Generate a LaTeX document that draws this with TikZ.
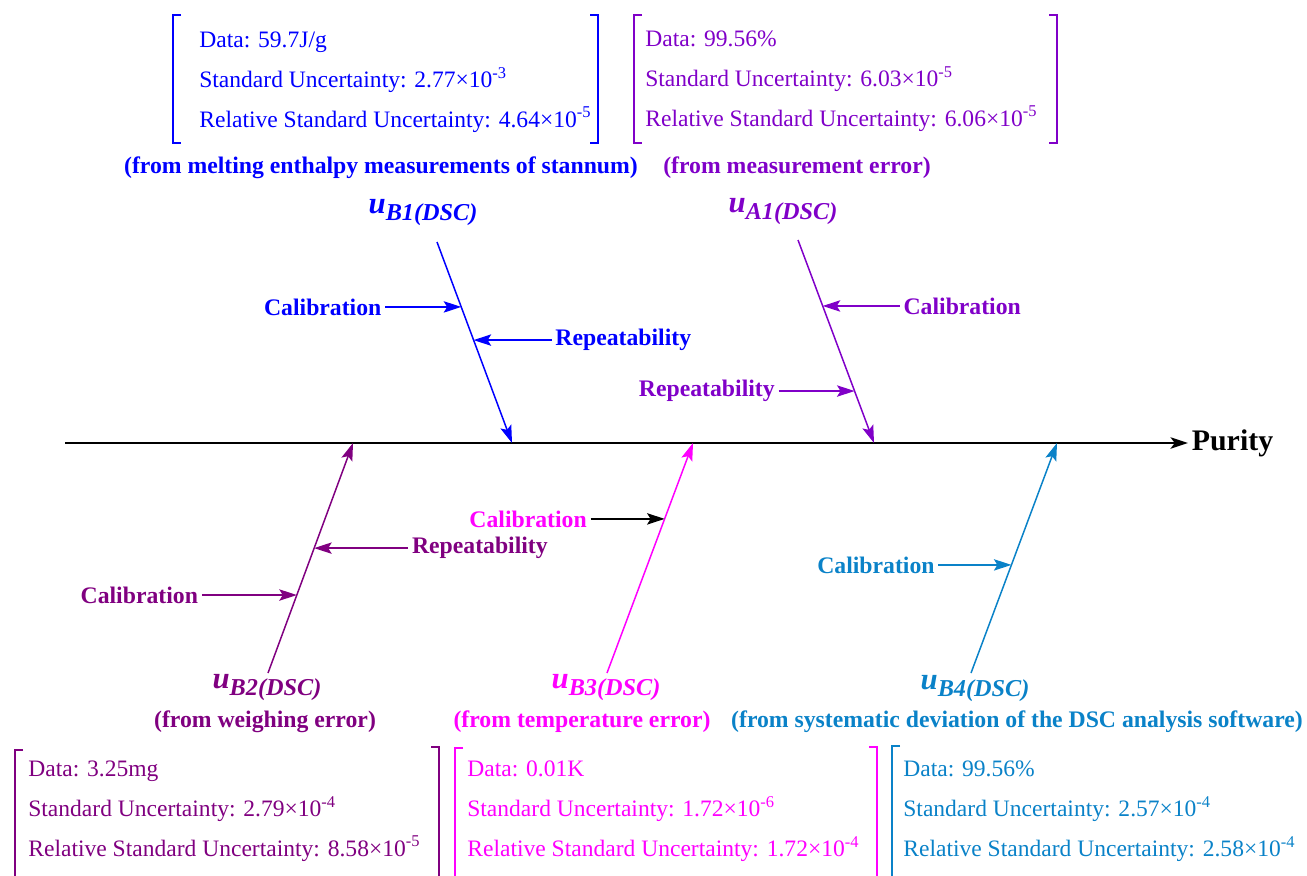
\documentclass[tikz,border=0pt]{standalone}
\usepackage{fontspec}
\setmainfont{Liberation Serif}
\usetikzlibrary{arrows.meta,calc,positioning}

\definecolor{colB1}{RGB}{0,0,255}
\definecolor{colA1}{RGB}{128,0,200}
\definecolor{colB2}{RGB}{128,0,128}
\definecolor{colB3}{RGB}{255,0,255}
\definecolor{colB4}{RGB}{10,130,200}

% u label with bold italic subscript
\newcommand{\ulab}[1]{\fontsize{17.5}{20}\selectfont\bfseries\itshape u\raisebox{-4pt}{\fontsize{13.8}{16}\selectfont #1(DSC)}}

\begin{document}
\begin{tikzpicture}[
            x = 0.02cm, y = -0.02cm, % one unit = one pixel of the reference
            headtip/.style = {-{Stealth[length=10pt,width=6.5pt,inset=2pt]}},
            branch/.style = {headtip, line width=0.85pt}, % main cause arrows
            cause/.style = {headtip, line width=0.75pt}, % sub cause arrows
            lbl/.style = {font=\fontsize{13.5}{16}\selectfont\bfseries, inner sep=2pt},
            data/.style = {font=\fontsize{13.4}{22.7}\selectfont, align=left, anchor=west, inner sep=0pt},
            brk/.style = {line width=0.8pt}
        ]
\useasboundingbox (0,0) rectangle (1307,875);
\clip (0,0) rectangle (1307,875);

% spine
\coordinate (spineL) at (65,443);
\node[font=\fontsize{17}{20}\selectfont\bfseries, anchor=west, inner sep=2pt] (purity) at (1188,443) {Purity};
\draw[line width=1.1pt, -{Stealth[length=10pt,width=6.5pt,inset=2.5pt]}] (spineL) -- (purity);

% u_B1
\coordinate (b1s) at (437,242);
\coordinate (b1e) at (512,443);
\draw[branch, colB1] (b1s) -- (b1e);
\coordinate (b1c) at ($(b1s)!0.323!(b1e)$);
\coordinate (b1r) at ($(b1s)!0.488!(b1e)$);
\node[lbl, colB1, anchor=east] (calB1) at ($(b1c)+(-76,0)$) {Calibration};
\node[lbl, colB1, anchor=west] (repB1) at ($(b1r)+(78,0)$) {Repeatability};
\path[cause, colB1] (calB1) edge (b1c);
\path[cause, colB1] (repB1) edge (b1r);
\node[colB1, inner sep=0pt] (uB1) at (423,213) {\ulab{B1}};
\node[lbl, colB1] (srcB1) at (381,168) {(from melting enthalpy measurements of stannum)};
\node[data, colB1] (datB1) at (199,82) {Data: 59.7J/g\\Standard Uncertainty: 2.77×10\textsuperscript{-3}\\Relative Standard Uncertainty: 4.64×10\textsuperscript{-5}};
\draw[brk, colB1] (181,15) -| (173,143) -- (181,143);
\draw[brk, colB1] (590,15) -| (598,143) -- (590,143);

% u_A1
\coordinate (a1s) at (798,240);
\coordinate (a1e) at (874,443);
\draw[branch, colA1] (a1s) -- (a1e);
\coordinate (a1c) at ($(a1s)!0.325!(a1e)$);
\coordinate (a1r) at ($(a1s)!0.744!(a1e)$);
\node[lbl, colA1, anchor=west] (calA1) at ($(a1c)+(77,0)$) {Calibration};
\node[lbl, colA1, anchor=east] (repA1) at ($(a1r)+(-76,0)$) {Repeatability};
\path[cause, colA1] (calA1) edge (a1c);
\path[cause, colA1] (repA1) edge (a1r);
\node[colA1, inner sep=0pt] (uA1) at (783,212) {\ulab{A1}};
\node[lbl, colA1] (srcA1) at (797,168) {(from measurement error)};
\node[data, colA1] (datA1) at (645,81) {Data: 99.56\%\\Standard Uncertainty: 6.03×10\textsuperscript{-5}\\Relative Standard Uncertainty: 6.06×10\textsuperscript{-5}};
\draw[brk, colA1] (642,15) -| (634,143) -- (642,143);
\draw[brk, colA1] (1049,15) -| (1057,143) -- (1049,143);

% u_B2
\coordinate (b2s) at (268,673);
\coordinate (b2e) at (353,443);
\draw[branch, colB2] (b2s) -- (b2e);
\coordinate (b2r) at ($(b2s)!0.543!(b2e)$);
\coordinate (b2c) at ($(b2s)!0.339!(b2e)$);
\node[lbl, colB2, anchor=west] (repB2) at ($(b2r)+(94,0)$) {Repeatability};
\node[lbl, colB2, anchor=east] (calB2) at ($(b2c)+(-95,0)$) {Calibration};
\path[cause, colB2] (repB2) edge (b2r);
\path[cause, colB2] (calB2) edge (b2c);
\node[colB2, inner sep=0pt] (uB2) at (267,688) {\ulab{B2}};
\node[lbl, colB2] (srcB2) at (265,722) {(from weighing error)};
\node[data, colB2] (datB2) at (28,811) {Data: 3.25mg\\Standard Uncertainty: 2.79×10\textsuperscript{-4}\\Relative Standard Uncertainty: 8.58×10\textsuperscript{-5}};
\draw[brk, colB2] (23,750) -| (15,890);
\draw[brk, colB2] (431,747) -| (439,890);

% u_B3
\coordinate (b3s) at (607,673);
\coordinate (b3e) at (693,443);
\draw[branch, colB3] (b3s) -- (b3e);
\coordinate (b3c) at ($(b3s)!0.67!(b3e)$);
\node[lbl, colB3, anchor=east] (calB3) at ($(b3c)+(-74,0)$) {Calibration};
\path[cause, black] (calB3) edge (b3c);
\node[colB3, inner sep=0pt] (uB3) at (606,688) {\ulab{B3}};
\node[lbl, colB3] (srcB3) at (582,722) {(from temperature error)};
\node[data, colB3] (datB3) at (467,811) {Data: 0.01K\\Standard Uncertainty: 1.72×10\textsuperscript{-6}\\Relative Standard Uncertainty: 1.72×10\textsuperscript{-4}};
\draw[brk, colB3] (463,748) -| (455,890);
\draw[brk, colB3] (869,747) -| (877,890);

% u_B4
\coordinate (b4s) at (971,673);
\coordinate (b4e) at (1057,443);
\draw[branch, colB4] (b4s) -- (b4e);
\coordinate (b4c) at ($(b4s)!0.47!(b4e)$);
\node[lbl, colB4, anchor=east] (calB4) at ($(b4c)+(-73,0)$) {Calibration};
\path[cause, colB4] (calB4) edge (b4c);
\node[colB4, inner sep=0pt] (uB4) at (975,689) {\ulab{B4}};
\node[lbl, colB4] (srcB4) at (1017,722) {(from systematic deviation of the DSC analysis software)};
\node[data, colB4] (datB4) at (903,811) {Data: 99.56\%\\Standard Uncertainty: 2.57×10\textsuperscript{-4}\\Relative Standard Uncertainty: 2.58×10\textsuperscript{-4}};
\draw[brk, colB4] (900,746) -| (892,890);

\end{tikzpicture}
\end{document}
